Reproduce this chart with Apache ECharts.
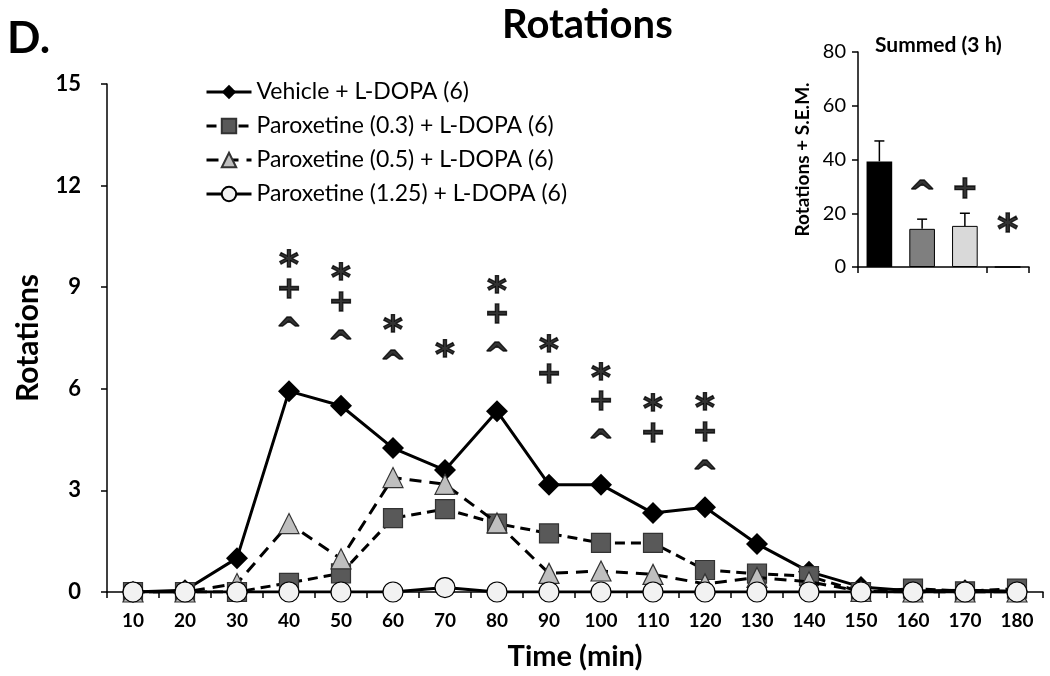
<!DOCTYPE html>
<html><head><meta charset="utf-8">
<script src="https://cdn.jsdelivr.net/npm/echarts@6/dist/echarts.min.js"></script>
<style>html,body{margin:0;padding:0;background:#fff}#c{width:1050px;height:676px}</style>
</head><body><div id="c"></div>
<script>
// ---- data ----
const times = ['10','20','30','40','50','60','70','80','90','100','110','120','130','140','150','160','170','180'];
const seriesNames = ['Vehicle + L-DOPA (6)','Paroxetine (0.3) + L-DOPA (6)','Paroxetine (0.5) + L-DOPA (6)','Paroxetine (1.25) + L-DOPA (6)'];
const vehicle = [0, 0.05, 1.0, 5.93, 5.5, 4.25, 3.6, 5.34, 3.17, 3.17, 2.33, 2.5, 1.42, 0.6, 0.15, 0.03, 0.05, 0.02];
const par03   = [0, 0, 0, 0.27, 0.55, 2.18, 2.45, 2.02, 1.73, 1.45, 1.45, 0.65, 0.54, 0.47, 0, 0.1, 0.02, 0.1];
const par05   = [0, 0, 0.25, 2.02, 0.98, 3.38, 3.18, 2.04, 0.55, 0.62, 0.52, 0.24, 0.43, 0.3, 0.02, 0, 0, 0];
const par125  = [0, 0, 0, 0, 0, 0, 0.13, 0, 0, 0, 0, 0, 0, 0, 0, 0, 0, 0];
// significance marks above the time course
const annTimes = ['40','50','60','70','80','90','100','110','120'];
const annMarks = ['*+^','*+^','*^','*','*+^','*+','*+^','*+','*+^'];
const annTop   = [9.88, 9.5, 7.97, 7.23, 9.12, 7.37, 6.55, 5.63, 5.66];
// inset: summed 3 h
const insetCats  = ['Vehicle','Paroxetine (0.3)','Paroxetine (0.5)','Paroxetine (1.25)'];
const insetMeans = [39.3, 14.2, 15.3, 0];
const insetSem   = [7.6, 3.6, 4.7, 0];
const insetMarks = ['', '^', '+', '*'];
const insetMarkY = [null, 31, 29, 16.5];

// ---- styling ----
const FF = 'Lato, "Open Sans", sans-serif';
const MF = '"DejaVu Sans", sans-serif';
const colors = ['#000000', '#595959', '#bfbfbf', '#f2f2f2'];
const symbols = ['diamond', 'rect', 'triangle', 'circle'];
const symSizes = [22, 19, 20, 20];
const lineTypes = ['solid', [10, 6], [12, 8], 'solid'];

const lineSeries = [vehicle, par03, par05, par125].map((d, i) => ({
  name: seriesNames[i], type: 'line', xAxisIndex: 0, yAxisIndex: 0,
  data: d, symbol: symbols[i], symbolSize: symSizes[i], z: 2 + i,
  lineStyle: { color: '#000', width: 3, type: lineTypes[i] },
  itemStyle: { color: colors[i], borderColor: i === 0 ? '#000' : (i === 3 ? '#000' : '#333'), borderWidth: i === 0 ? 0 : 1.2 },
  emphasis: { disabled: true }, animation: false
}));

const markOffset = { '*': 10, '+': 1, '^': 12 };
const markSize = { '*': 38, '+': 30, '^': 32 };
const annData = [];
annTimes.forEach((t, i) => {
  annMarks[i].split('').forEach((m, j) => {
    annData.push({ value: [t, annTop[i]], mark: m, line: j });
  });
});
const markLabel = (m, size, dy) => ({
  show: true, position: 'inside', formatter: m, color: '#000', fontWeight: 'bold',
  fontFamily: MF, fontSize: size, offset: [0, dy], textBorderColor: '#000', textBorderWidth: 1.3
});
const annSeries = {
  type: 'scatter', xAxisIndex: 0, yAxisIndex: 0, symbol: 'circle', symbolSize: 1,
  itemStyle: { color: 'rgba(0,0,0,0)' }, silent: true, animation: false, z: 10,
  data: annData.map(d => ({
    value: d.value,
    label: markLabel(d.mark, markSize[d.mark], d.line * 31.5 + markOffset[d.mark])
  }))
};

const insetBars = {
  type: 'bar', xAxisIndex: 1, yAxisIndex: 1, barWidth: '60%', animation: false,
  data: insetMeans.map((v, i) => ({ value: v, itemStyle: { color: ['#000', '#7f7f7f', '#d9d9d9', '#fff'][i], borderColor: '#000', borderWidth: i === 0 ? 0 : 1 } }))
};
const insetErr = {
  type: 'custom', xAxisIndex: 1, yAxisIndex: 1, z: 5, animation: false,
  data: insetMeans.map((v, i) => [i, v, insetSem[i]]),
  renderItem: (params, api) => {
    if (!api.value(2)) return null;
    const b = api.coord([api.value(0), api.value(1)]);
    const t = api.coord([api.value(0), api.value(1) + api.value(2)]);
    return { type: 'group', children: [
      { type: 'line', shape: { x1: b[0], y1: b[1], x2: t[0], y2: t[1] }, style: { stroke: '#000', lineWidth: 1.5 } },
      { type: 'line', shape: { x1: t[0] - 5, y1: t[1], x2: t[0] + 5, y2: t[1] }, style: { stroke: '#000', lineWidth: 1.5 } }
    ]};
  }
};
const insetAnn = {
  type: 'scatter', xAxisIndex: 1, yAxisIndex: 1, symbol: 'circle', symbolSize: 1, silent: true, animation: false, z: 10,
  itemStyle: { color: 'rgba(0,0,0,0)' },
  data: insetMarks.map((m, i) => m ? ({ value: [i, insetMarkY[i]],
    label: markLabel(m, markSize[m] + 2, markOffset[m]) }) : null).filter(Boolean)
};

const axisCommon = {
  axisLine: { show: true, lineStyle: { color: '#000', width: 1.5 } },
  axisTick: { show: true, length: 6, lineStyle: { color: '#000', width: 1.5 } },
  splitLine: { show: false }
};

const option = {
  backgroundColor: '#fff',
  animation: false,
  textStyle: { fontFamily: FF },
  title: [
    { text: 'Rotations', left: 497, top: 0, textStyle: { fontFamily: FF, fontWeight: 'bold', fontSize: 40, color: '#000' } },
    { text: 'D.', left: 2, top: 12, textStyle: { fontFamily: FF, fontWeight: 'bold', fontSize: 44, color: '#000' } },
    { text: 'Summed (3 h)', left: 870, top: 30, textStyle: { fontFamily: FF, fontWeight: 'bold', fontSize: 21, color: '#000' } }
  ],
  legend: {
    data: seriesNames, orient: 'vertical', left: 200, top: 75, itemGap: 10, itemWidth: 45, itemHeight: 18,
    lineStyle: { width: 3 },
    textStyle: { fontFamily: FF, fontSize: 23, lineHeight: 24, color: '#000' }, selectedMode: false
  },
  grid: [
    { left: 107, right: 7, top: 84, bottom: 83 },
    { left: 858, right: 21, top: 52, bottom: 409 }
  ],
  xAxis: [
    Object.assign({}, axisCommon, {
      type: 'category', gridIndex: 0, data: times, boundaryGap: true,
      axisLabel: { interval: 0, fontFamily: FF, fontWeight: 'bold', fontSize: 19, color: '#000', margin: 19 },
      name: 'Time (min)', nameLocation: 'middle', nameGap: 50,
      nameTextStyle: { fontFamily: FF, fontWeight: 'bold', fontSize: 29, color: '#000' }
    }),
    Object.assign({}, axisCommon, {
      type: 'category', gridIndex: 1, data: insetCats, boundaryGap: true,
      axisLabel: { show: false }
    })
  ],
  yAxis: [
    Object.assign({}, axisCommon, {
      type: 'value', gridIndex: 0, min: 0, max: 15, interval: 3,
      axisLabel: { fontFamily: FF, fontWeight: 'bold', fontSize: 22, color: '#000', margin: 26 },
      name: 'Rotations', nameLocation: 'middle', nameGap: 64, nameRotate: 90,
      nameTextStyle: { fontFamily: FF, fontWeight: 'bold', fontSize: 30, color: '#000' }
    }),
    Object.assign({}, axisCommon, {
      type: 'value', gridIndex: 1, min: 0, max: 80, interval: 20,
      axisLabel: { fontFamily: FF, fontSize: 20, color: '#000', margin: 12 },
      name: 'Rotations + S.E.M.', nameLocation: 'middle', nameGap: 46, nameRotate: 90,
      nameTextStyle: { fontFamily: FF, fontWeight: 'bold', fontSize: 19, color: '#000' }
    })
  ],
  series: [...lineSeries, annSeries, insetBars, insetErr, insetAnn]
};

const chart = echarts.init(document.getElementById('c'), null, { renderer: 'canvas' });
chart.setOption(option);
</script>
</body></html>
